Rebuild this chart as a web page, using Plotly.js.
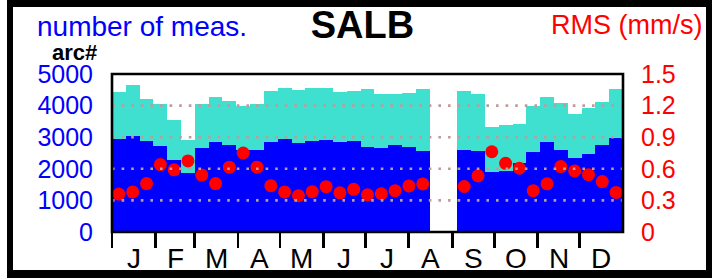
<!DOCTYPE html>
<html>
<head>
<meta charset="utf-8">
<script src="https://cdn.plot.ly/plotly-3.0.1.min.js"></script>
<style>
  html, body { margin: 0; padding: 0; background: #fff; }
  #wrap { position: relative; width: 715px; height: 278px; overflow: hidden; }
  #chart { position: absolute; left: 0; top: 0; width: 715px; height: 278px; }
  #frame { position: absolute; left: 7px; top: 0; width: 705px; height: 278px; box-sizing: border-box;
           border-style: solid; border-color: #000; border-width: 7px 6px 8px 6px; pointer-events: none; }
</style>
</head>
<body>
<div id="wrap"><div id="chart"></div><div id="frame"></div></div>
<script>
// 37 periods over the year (~10 days each); two periods in August have no data
var totalMeas = [4440, 4640, 4215, 4060, 3540, 2920, 4050, 4270, 4160, 3995, 4040, 4455, 4570, 4480, 4570, 4560, 4430, 4450,
                 4510, 4370, 4380, 4385, 4540, null, null, 4450, 4360, 3335, 3378, 3415, 4000, 4268, 4098, 3744, 3930, 4108, 4538];
var arcCount  = [2950, 3030, 2870, 2710, 2290, 1880, 2653, 2842, 2745, 2580, 2580, 2850, 2930, 2806, 2878, 2898, 2852, 2878,
                 2690, 2660, 2762, 2681, 2555, null, null, 2595, 2565, 1912, 1938, 2172, 2540, 2850, 2595, 2335, 2478, 2752, 2962];
var rmsValues = [0.36, 0.38, 0.46, 0.64, 0.59, 0.675, 0.54, 0.46, 0.615, 0.75, 0.615, 0.44, 0.38, 0.345, 0.383, 0.43, 0.372, 0.405,
                 0.353, 0.363, 0.392, 0.437, 0.456, null, null, 0.432, 0.533, 0.762, 0.652, 0.605, 0.392, 0.457, 0.621, 0.58, 0.544, 0.479, 0.376];
var monthLabels = ['J', 'F', 'M', 'A', 'M', 'J', 'J', 'A', 'S', 'O', 'N', 'D'];
var monthStartDay = [0, 31, 59, 90, 120, 151, 181, 212, 243, 273, 304, 334];
var countTicks = [0, 1000, 2000, 3000, 4000, 5000];
var rmsTicks = [0, 0.3, 0.6, 0.9, 1.2, 1.5];

var YEAR = 365;
var nPer = totalMeas.length;
var perWidth = YEAR / nPer;
var perCenter = totalMeas.map(function (_, i) { return (i + 0.5) * perWidth; });
var monthMid = monthStartDay.map(function (d, i) {
  var end = i < 11 ? monthStartDay[i + 1] : YEAR; return (d + end) / 2;
});

var FONT = 'Liberation Sans, Arial, Helvetica, sans-serif';
var BLUE = '#0000ff', TURQ = '#40e0d0', RED = '#ff0000';

var traces = [
  { type: 'bar', x: perCenter, y: totalMeas, width: perWidth, marker: { color: TURQ, line: { width: 0 } },
    xaxis: 'x', yaxis: 'y', hoverinfo: 'skip' },
  { type: 'bar', x: perCenter, y: arcCount, width: perWidth, marker: { color: BLUE, line: { width: 0 } },
    xaxis: 'x', yaxis: 'y', hoverinfo: 'skip' },
  { type: 'scatter', mode: 'markers', x: perCenter, y: rmsValues, marker: { color: RED, size: 13, line: { width: 0 } },
    xaxis: 'x', yaxis: 'y2', hoverinfo: 'skip' }
];

var L = 112, R = 92, T = 74, B = 46, W = 715, H = 278;
var pw = W - L - R, ph = H - T - B;
function px2x(px) { return (px - L) / pw; }
function py2y(py) { return (H - B - py) / ph; }

var shapes = [];
countTicks.slice(1, -1).forEach(function (v) {
  shapes.push({ type: 'line', xref: 'paper', yref: 'y', x0: 0, x1: 1, y0: v, y1: v, layer: 'above',
                line: { color: '#bf9c9c', width: 2.6, dash: '2.6px,7px' } });
});
shapes.push({ type: 'rect', xref: 'paper', yref: 'paper', x0: 0, x1: 1, y0: 0, y1: 1, layer: 'above',
              line: { color: '#000', width: 2.6 }, fillcolor: 'rgba(0,0,0,0)' });

var annotations = [];
monthLabels.forEach(function (m, i) {
  annotations.push({ text: m, xref: 'x', yref: 'paper', x: monthMid[i], y: py2y(258.5), xanchor: 'center', yanchor: 'middle',
                     showarrow: false, font: { family: FONT, size: 28, color: '#000' } });
});
annotations.push({ text: 'number of meas.', xref: 'paper', yref: 'paper', x: px2x(35), y: py2y(27),
                   xanchor: 'left', yanchor: 'middle', showarrow: false, font: { family: FONT, size: 28, color: BLUE } });
annotations.push({ text: '<b>arc#</b>', xref: 'paper', yref: 'paper', x: px2x(49.5), y: py2y(53),
                   xanchor: 'left', yanchor: 'middle', showarrow: false, font: { family: FONT, size: 22, color: '#000' } });
annotations.push({ text: 'RMS (mm/s)', xref: 'paper', yref: 'paper', x: px2x(704), y: py2y(24.5),
                   xanchor: 'right', yanchor: 'middle', showarrow: false, font: { family: FONT, size: 27, color: RED } });

var layout = {
  width: W, height: H,
  margin: { l: L, r: R, t: T, b: B, pad: 0 },
  paper_bgcolor: '#fff', plot_bgcolor: '#fff',
  showlegend: false, barmode: 'overlay', bargap: 0,
  font: { family: FONT },
  title: { text: '<b>SALB</b>', font: { family: FONT, size: 38, color: '#000' },
           x: 362.5 / W, xanchor: 'center', xref: 'container', y: 1 - 25 / H, yanchor: 'middle', yref: 'container' },
  xaxis: { range: [0, YEAR], tickmode: 'array', tickvals: monthStartDay, showticklabels: false,
           ticks: 'outside', ticklen: 15, tickwidth: 2.6, tickcolor: '#000',
           showgrid: false, zeroline: false, showline: false, fixedrange: true },
  yaxis: { range: [0, 5000], tickmode: 'array', tickvals: countTicks, ticktext: countTicks.map(String),
           ticks: 'outside', ticklen: 13, tickcolor: 'rgba(0,0,0,0)',
           tickfont: { family: FONT, size: 25, color: BLUE },
           showgrid: false, zeroline: false, showline: false, fixedrange: true },
  yaxis2: { range: [0, 1.5], overlaying: 'y', side: 'right', tickmode: 'array', tickvals: rmsTicks,
            ticktext: rmsTicks.map(String),
            ticks: 'outside', ticklen: 12, tickcolor: 'rgba(0,0,0,0)',
            tickfont: { family: FONT, size: 25, color: RED },
            showgrid: false, zeroline: false, showline: false, fixedrange: true },
  shapes: shapes,
  annotations: annotations
};

Plotly.newPlot('chart', traces, layout, { staticPlot: true, displayModeBar: false });
</script>
</body>
</html>
